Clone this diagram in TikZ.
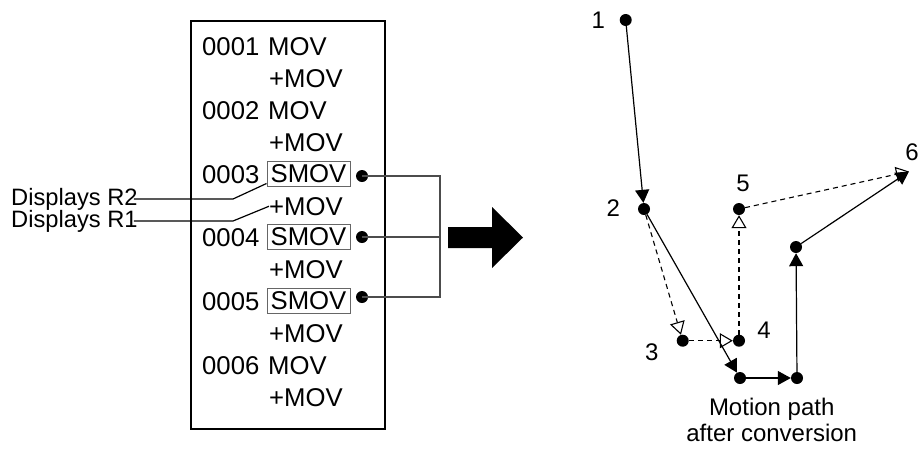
\documentclass[tikz,border=0pt]{standalone}
\usepackage{fontspec}
\setmainfont{Liberation Sans}
\usetikzlibrary{arrows.meta}
\begin{document}
\begin{tikzpicture}[x=1pt,y=-1pt,
  txt/.style={font=\fontsize{25.7}{30}\selectfont, inner sep=0pt, anchor=base west},
  smov/.style={draw=black!60, line width=1pt, inner sep=0pt, minimum width=83pt, minimum height=25pt, font=\fontsize{25.7}{30}\selectfont, text height=18.4pt, text depth=0pt},
  lbl/.style={font=\fontsize{23.7}{28}\selectfont, inner sep=0pt, anchor=west},
  num/.style={font=\fontsize{24}{28}\selectfont, inner sep=0pt, text height=17.2pt, text depth=0pt},
  dot/.style={circle, fill=black, inner sep=0pt, minimum size=12pt},
  wire/.style={line width=1.2pt},
  brk/.style={line width=1.2pt, draw=black!70},
  solidarrow/.style={line width=1.2pt, -{Triangle[length=13pt,width=14pt]}},
  openarrow/.style={line width=1.1pt, dash pattern=on 5pt off 4pt, -{Triangle[open, length=13pt, width=15pt, fill=white]}},
]
\useasboundingbox (0,0) rectangle (920,451);

% program box
\node[draw, line width=2pt, minimum width=194pt, minimum height=408pt, inner sep=0pt, anchor=north west] (prog) at (190,20) {};

\node[txt] (n1) at (202,55.8) {0001};   \node[txt] (r1) at (268,55.8) {MOV};
\node[txt] (r2) at (269,87.7) {+MOV};
\node[txt] (n3) at (202,119.5) {0002};  \node[txt] (r3) at (268,119.5) {MOV};
\node[txt] (r4) at (269,151.4) {+MOV};
\node[txt] (n5) at (202,183.2) {0003};  \node[smov] (s5) at (308.5,173.5) {SMOV};
\node[txt] (r6) at (269,215.1) {+MOV};
\node[txt] (n7) at (202,246.9) {0004};  \node[smov] (s7) at (308.5,236.5) {SMOV};
\node[txt] (r8) at (269,278.8) {+MOV};
\node[txt] (n9) at (202,310.6) {0005};  \node[smov] (s9) at (308.5,300.5) {SMOV};
\node[txt] (r10) at (269,342.5) {+MOV};
\node[txt] (n11) at (202,374.3) {0006}; \node[txt] (r11) at (268,374.3) {MOV};
\node[txt] (r12) at (269,406.2) {+MOV};

% dots and bracket
\node[dot] (d5) at (362,176) {};
\node[dot] (d7) at (362,237) {};
\node[dot] (d9) at (362,297) {};
\coordinate (b5) at (440,176);
\coordinate (b7) at (440,237);
\coordinate (b9) at (440,297);
\draw[brk] (d5.center) -- (b5) -- (b9) -- (d9.center);
\draw[brk] (d7.center) -- (b7);

% labels
\node[lbl] (lab2) at (11,199) {Displays R2};
\node[lbl] (lab1) at (11,221) {Displays R1};
\coordinate (k2) at (233,199);
\coordinate (k1) at (233,221);
\draw[wire] ([xshift=-4pt]lab2.east) -- (k2) -- ([yshift=3pt]s5.south west);
\draw[wire] ([xshift=-4pt]lab1.east) -- (k1) -- (r6.west);

% big arrow
\fill (448,227) -- (492,227) -- (492,207) -- (523,237.5) -- (492,268) -- (492,248) -- (448,248) -- cycle;

% motion path
\node[dot] (p1) at (625.7,20) {};
\node[dot] (p2) at (644,209) {};
\node[dot] (p3) at (682.7,340.7) {};
\node[dot] (p4) at (739,340.7) {};
\node[dot] (p5) at (739,209) {};
\coordinate (p6) at (909,171.5);
\node[dot] (pa) at (740,378) {};
\node[dot] (pb) at (797,378) {};
\node[dot] (pc) at (796,247) {};

\node[num] (l1) at (598.3,20) {1};
\node[num] (l2) at (613.3,208.3) {2};
\node[num] (l3) at (651.7,351.7) {3};
\node[num] (l4) at (764,330) {4};
\node[num] (l5) at (743,183) {5};
\node[num] (l6) at (912,152) {6};

\draw[openarrow] (p2) -- (p3);
\draw[openarrow] (p3) -- (p4);
\draw[openarrow] (p4) -- (p5);
\draw[openarrow] (p5) -- (p6);

\draw[solidarrow] (p1) -- (p2);
\draw[solidarrow] (p2) -- (pa);
\draw[solidarrow] (pa) -- (pb);
\draw[solidarrow] (pb) -- (pc);
\draw[solidarrow] (pc) -- (p6);

\node[num] (m1) at (771.7,407) {Motion path};
\node[num] (m2) at (771.7,433) {after conversion};
\end{tikzpicture}
\end{document}
